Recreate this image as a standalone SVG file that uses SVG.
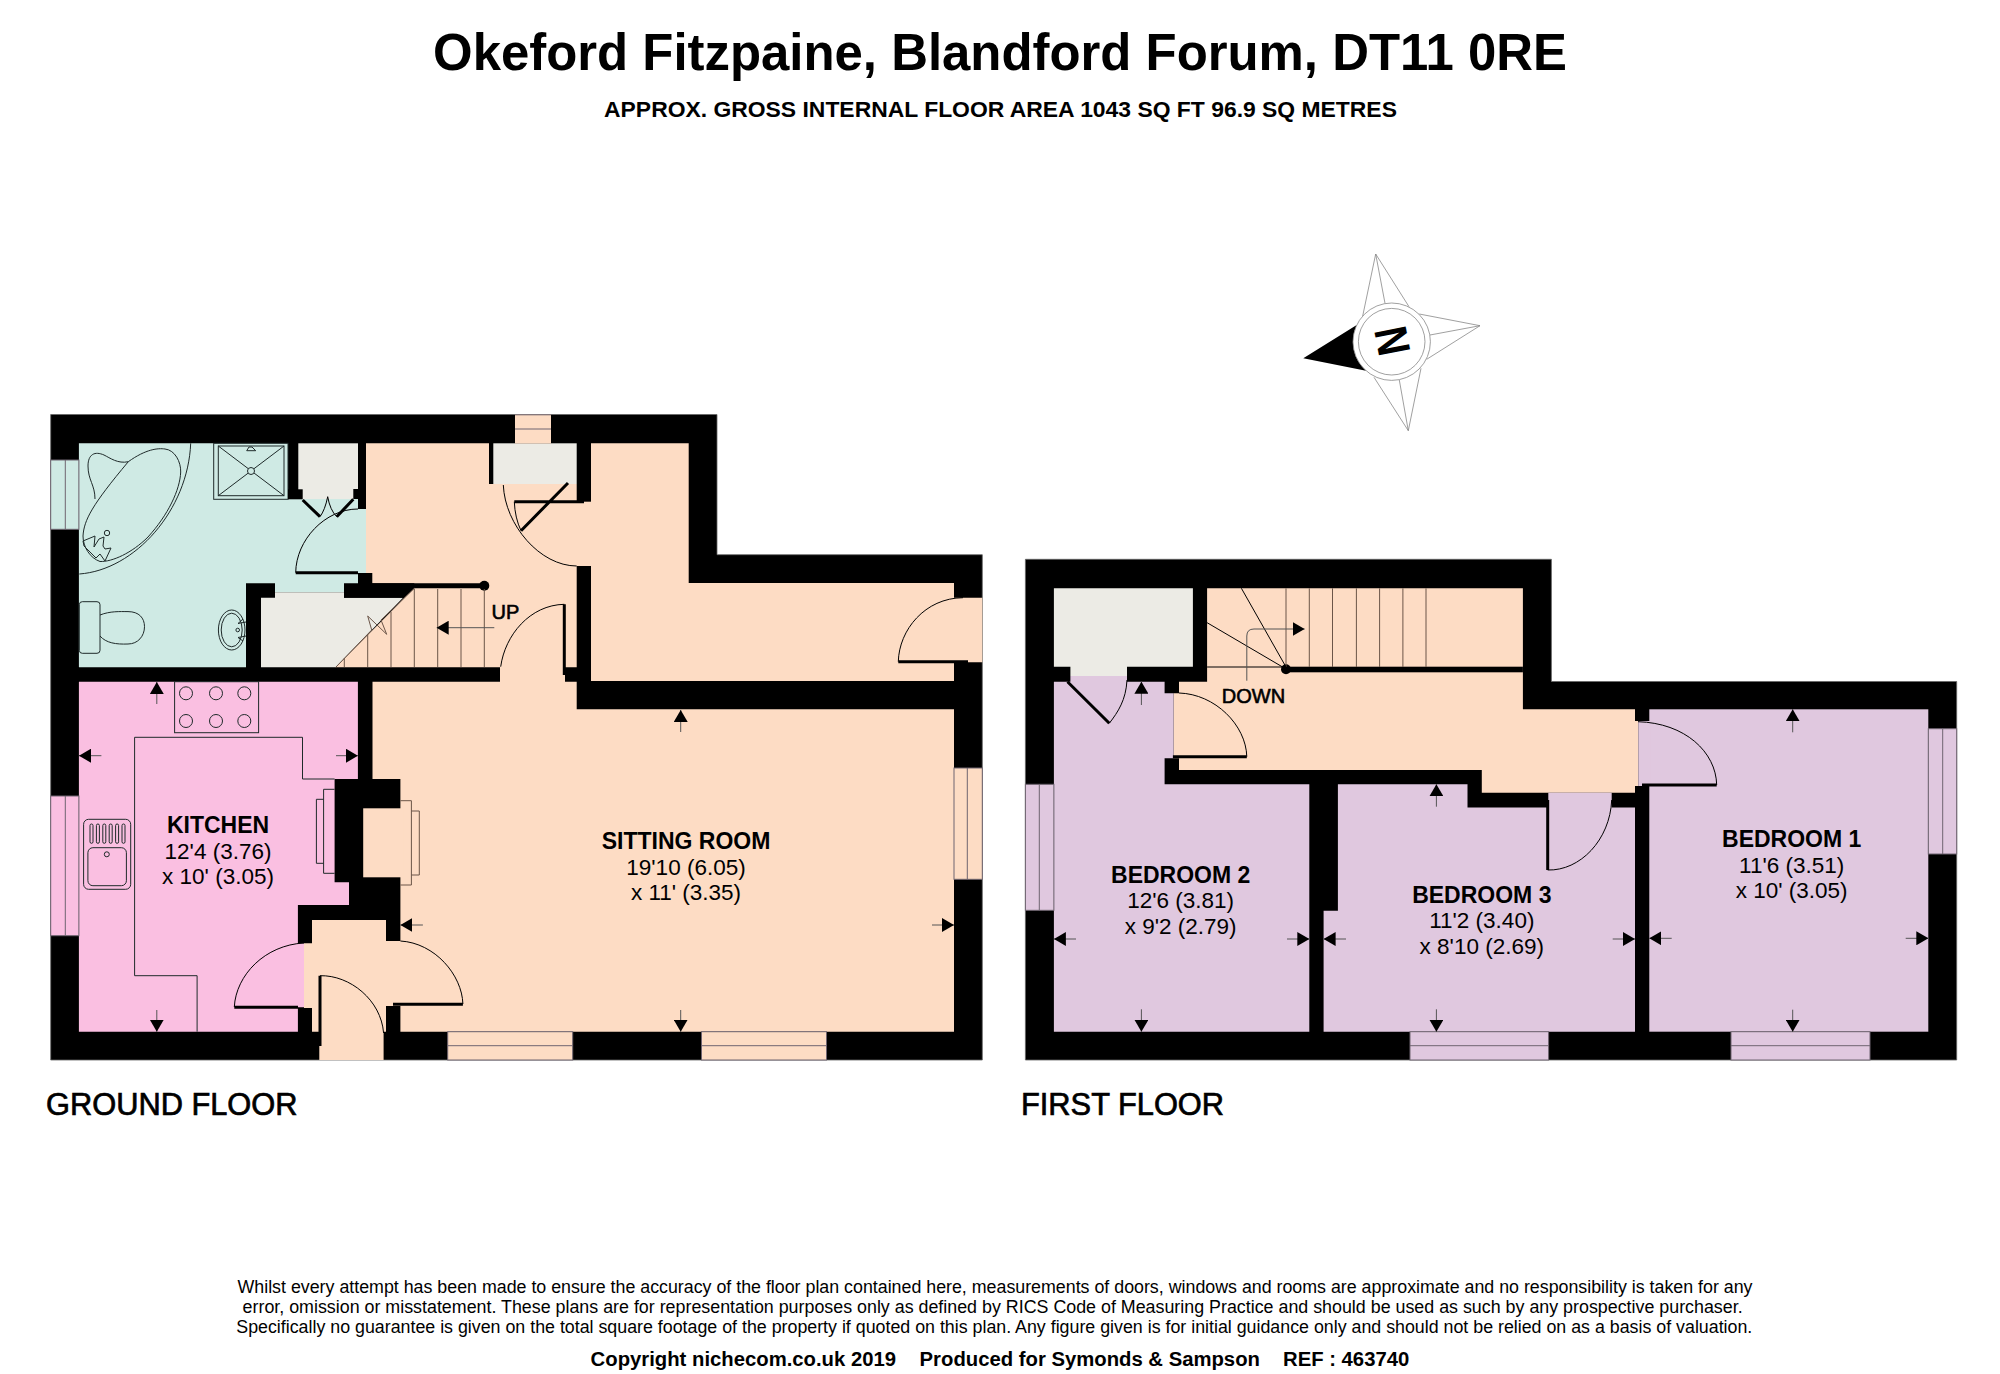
<svg xmlns="http://www.w3.org/2000/svg" width="2000" height="1374" viewBox="0 0 2000 1374">
<style>
text{font-family:"Liberation Sans",Arial,sans-serif;fill:#000}
.b{font-weight:bold}
.c{text-anchor:middle}
.rn{font-weight:bold;font-size:23px;text-anchor:middle}
.rd{font-size:22.5px;text-anchor:middle}
.lab{font-size:20px;stroke:#000;stroke-width:.6}
.fl{font-size:30.8px;stroke:#000;stroke-width:.7}
.ft{font-size:17.5px}
.cr{font-size:20.3px;font-weight:bold}
.wall{fill:#000}
.outer{fill:#000;stroke:#666;stroke-width:.8}
.peach{fill:#fddcc4}.aqua{fill:#cfeae4}.pink{fill:#fabfe1}.purple{fill:#e0c8df}.grey{fill:#ecebe5}
.l{fill:none;stroke:#000;stroke-width:1}
.fx{fill:none;stroke:#1f2a2a;stroke-width:1}
.br{fill:none;stroke:#6b5548;stroke-width:1}
.win{stroke:#6f6470;stroke-width:1}
.door{fill:none;stroke:#000;stroke-width:3}
.dim{stroke:#555;stroke-width:1;fill:none;marker-end:url(#ah)}
.cp{fill:none;stroke:#888;stroke-width:.8}
</style>
<defs>
<marker id="ah" viewBox="0 0 12 14" refX="12" refY="7" markerWidth="12" markerHeight="14" markerUnits="userSpaceOnUse" orient="auto"><path d="M0,0L12,7L0,14Z" fill="#000"/></marker>
</defs>

<g id="titles">
<text class="b c" x="1000" y="70" font-size="50.9">Okeford Fitzpaine, Blandford Forum, DT11 0RE</text>
<text class="b c" x="1000.5" y="116.7" font-size="22.9">APPROX. GROSS INTERNAL FLOOR AREA 1043 SQ FT 96.9 SQ METRES</text>
</g>

<g id="compass">
<path d="M1375.7,254L1362.7,316M1375.7,254L1385,303.3M1375.7,254L1409,306.7M1480,325.7L1419.3,314M1480,325.7L1430,335M1480,325.7L1426.7,359.3M1408.3,430.7L1421,368.3M1408.3,430.7L1399.3,380M1408.3,430.7L1374,377.3" class="cp"/>
<path d="M1303.3,358.3L1356.7,325A38.7,38.7 0 0 0 1366,370.7Z" fill="#000"/>
<circle cx="1391.7" cy="341.7" r="38.7" class="cp"/>
<circle cx="1391.7" cy="341.7" r="33.3" class="cp"/>
<text class="b c" transform="translate(1391.5,341) rotate(-101) scale(.85,1)" x="0" y="16.5" font-size="46">N</text>
</g>

<g id="ground-floor">
<polygon class="outer" points="50.7,414.5 717,414.5 717,554.7 982.3,554.7 982.3,1060 50.7,1060"/>
<g id="bathroom">
<polygon class="aqua" points="78.9,443.3 288,443.3 288,499 358,499 358,509 366,509 366,573 358,573 358,592.3 275,592.3 275,583.3 246,583.3 246,667.3 78.9,667.3"/>
<rect class="aqua win" x="50.7" y="460" width="28.2" height="69.3"/><path class="win" d="M65.3,460V529.3"/>
<path class="fx" d="M190.7,443.3C188,510 135,570 79.3,574"/>
<path class="fx" d="M128.3,461.7C146,449 158,448 165,449C175,450 181,462 180.7,472C180,490 168,515 148,537C132,553 112,562 100,561.5C90,558 83,547 83,536C84,520 92,505 128.3,461.7Z"/>
<path class="fx" d="M128.3,461.7C118,464 110,458 104,455C95,451 88,454 88,466C88,480 95,485 95,499"/>
<circle class="fx" cx="107" cy="533" r="2.7"/>
<path class="fx" d="M83,541L95,536L94,547L99,539L104,537L103,546L105,549L111,548L105,561L100,554L96,558L84,546Z"/>
<rect class="fx" x="79.3" y="601.7" width="20.7" height="51.6" rx="3"/>
<path class="fx" d="M100,615C110,611 120,611.6 128,611.6C139,611.6 144.5,618 144.5,626.7C144.5,636 138,644 128,644C116,644.5 106,643 100,636"/>
<ellipse class="fx" cx="231.7" cy="630" rx="13.3" ry="20"/>
<ellipse class="fx" cx="231.7" cy="630" rx="10.5" ry="16.8"/>
<circle class="fx" cx="237.7" cy="630" r="1.8"/>
<path class="fx" d="M246,622L238,623.5L243,619M246,636L238,637.5L243,641"/>
<rect class="fx" x="213.7" y="443.3" width="74.3" height="56"/>
<rect class="fx" x="218.3" y="446" width="65.7" height="49.7"/>
<path class="fx" d="M218.3,446L284,495.7M284,446L218.3,495.7M246.7,450.7H255.7L252,447H249Z"/>
<circle cx="251" cy="471" r="3.5" fill="#cfeae4" stroke="#1f2a2a"/>
</g>
<rect class="grey" x="298.3" y="443.3" width="59.7" height="55.7"/>
<polygon class="grey" points="261,597.7 275,597.7 275,592.3 344,592.3 344,597.7 403,597.7 335.7,667.3 261,667.3"/>
<polygon class="peach" points="366,443.3 489,443.3 489,484 576.7,484 576.7,667.3 565,667.3 565,683 500,683 500,667.3 335.7,667.3 414.3,588.3 414.3,583.3 372.3,583.3 372.3,573 366,573"/>
<rect class="grey" x="493.3" y="443.3" width="83.4" height="40.7"/>
<rect class="peach" x="515" y="414.5" width="36" height="29"/><path class="win" d="M515,429H551M515,414.8H551" />
<polygon class="peach" points="591,443.3 688.7,443.3 688.7,583 954,583 954,597.7 982.3,597.7 982.3,662.3 954,662.3 954,681 591,681"/>
<rect class="peach" x="570" y="501.7" width="25" height="64.3"/>
<polygon class="peach" points="372.5,681.7 576.7,681.7 576.7,709.3 954,709.3 954,1031.7 400.4,1031.7 400.4,779 372.5,779"/>
<polygon class="peach" points="312,920 386,920 386,941 402,941 402,1006 386,1006 386,1031.7 383.6,1031.7 383.6,1060 319.3,1060 319.3,1031.7 312,1031.7 312,1008 304,1008 304,943.3 312,943.3"/>
<rect class="peach" x="363.2" y="808.3" width="40" height="69"/>
<polygon class="pink" points="78.9,681.7 357.9,681.7 357.9,779 334.6,779 334.6,882.3 349,882.3 349,905 297.9,905 297.9,943.3 304,943.3 304,1007.3 297.9,1007.3 297.9,1031.7 78.9,1031.7"/>
<g id="windows-ground">
<rect class="pink win" x="50.7" y="796" width="28.2" height="139.7"/><path class="win" d="M65.3,796V935.7"/>
<rect class="peach win" x="447.7" y="1031.7" width="125" height="28.3"/><path class="win" d="M447.7,1045.7H572.7"/>
<rect class="peach win" x="701.5" y="1031.7" width="125" height="28.3"/><path class="win" d="M701.5,1045.7H826.5"/>
<rect class="peach win" x="954" y="768" width="28.3" height="111.3"/><path class="win" d="M967.3,768V879.3"/>
</g>
<g id="walls-ground" class="wall">
<polygon points="344,583.3 484.3,583.3 484.3,588.3 414.3,588.3 403,597.7 344,597.7"/>
<circle cx="484.3" cy="585.7" r="5"/>
<rect x="288" y="489.3" width="14.7" height="10"/>
<rect x="353.3" y="489" width="4.7" height="10"/>
</g>
<g id="kitchen-fittings">
<rect class="fx" x="174.6" y="681.7" width="84" height="51"/>
<circle class="fx" cx="186" cy="693.3" r="6.5"/><circle class="fx" cx="216" cy="693.3" r="6.5"/><circle class="fx" cx="244.3" cy="693.3" r="6.5"/>
<circle class="fx" cx="186" cy="721" r="6.5"/><circle class="fx" cx="216" cy="721" r="6.5"/><circle class="fx" cx="244.3" cy="721" r="6.5"/>
<path class="fx" d="M334.6,779H302.5V737.3H134.6V975.7H197.1V1031.7"/>
<rect class="fx" x="83.6" y="819.3" width="47.1" height="70" rx="5"/>
<rect class="fx" x="87.9" y="847.7" width="38.5" height="38" rx="5"/>
<rect class="fx" x="90" y="824" width="3" height="19.3" rx="1.5"/><rect class="fx" x="96.4" y="824" width="3" height="19.3" rx="1.5"/><rect class="fx" x="102.8" y="824" width="3" height="19.3" rx="1.5"/><rect class="fx" x="109.2" y="824" width="3" height="19.3" rx="1.5"/><rect class="fx" x="115.6" y="824" width="3" height="19.3" rx="1.5"/><rect class="fx" x="122" y="824" width="3" height="19.3" rx="1.5"/>
<circle class="fx" cx="106.8" cy="854.3" r="2.5"/>
<path class="fx" d="M334.6,789.3H323.6V873.3H334.6M323.6,799.3H316.4V863.3H323.6"/>
<path class="br" d="M400.4,800.7H411.4V885H400.4M411.4,811H419.3V875H411.4"/>
</g>
<g id="stairs-ground">
<path class="br" d="M335.7,667.3L371.7,630L367.7,616L386.7,634.3L381,620L414.3,588.3M344.3,658V667M367.7,634V667M391,612V667M414.3,589V667M437.7,589V667M461,589V667M484.3,589V667"/>
<line class="dim" x1="494.3" y1="627.7" x2="436.7" y2="627.7"/>
<text class="lab" x="491.5" y="619">UP</text>
</g>
<g id="doors-ground">
<path class="door" d="M302.7,500L320,516.7M353.3,499.3L336.7,516.7M295.7,572.7H358M568,483L521,530.7M514.3,501.7H584"/>
<path class="door" d="M564.3,604.3V675M234.3,1007.3H298M393,1004.3H462.9M320,975.7V1046M898.3,661.7H968" stroke-width="2.6"/>
<path class="l" d="M320,516.7Q325,510 327.7,496.7Q330,510 336.7,516.7M295.7,572.7C296,540 325,509 358,509M503.3,485C505,525 540,566 576.7,566M514.3,501.7Q515,518 521,530.7M564.3,604.3C530,605 505,635 500.7,666.7M898.3,661.7C899,630 925,598 963,597.7M234.3,1007C236,975 265,945 304,943M462.9,1004C462,975 435,943 400.4,941M320,975.7C350,975 381,1000 383.6,1033"/>
</g>
<g id="dims-ground">
<line class="dim" x1="156.8" y1="704" x2="156.8" y2="682"/>
<line class="dim" x1="101.4" y1="755.7" x2="79" y2="755.7"/>
<line class="dim" x1="336" y1="755.7" x2="357.9" y2="755.7"/>
<line class="dim" x1="156.8" y1="1010" x2="156.8" y2="1031.7"/>
<line class="dim" x1="422.9" y1="925" x2="400.4" y2="925"/>
<line class="dim" x1="932" y1="925" x2="954" y2="925"/>
<line class="dim" x1="680.7" y1="732" x2="680.7" y2="710"/>
<line class="dim" x1="680.7" y1="1010" x2="680.7" y2="1031.7"/>
</g>
<g id="labels-ground">
<text class="rn" x="218" y="833.3">KITCHEN</text>
<text class="rd" x="218" y="859.3">12'4 (3.76)</text>
<text class="rd" x="218" y="884.3">x 10' (3.05)</text>
<text class="rn" x="686" y="849.3">SITTING ROOM</text>
<text class="rd" x="686" y="874.7">19'10 (6.05)</text>
<text class="rd" x="686" y="900">x 11' (3.35)</text>
<text class="fl" x="46" y="1115.3">GROUND FLOOR</text>
</g>
</g>

<g id="first-floor">
<polygon class="outer" points="1025.4,559.3 1551.4,559.3 1551.4,681.5 1956.7,681.5 1956.7,1060 1025.4,1060"/>
<polygon class="grey" points="1053.9,588.3 1192.9,588.3 1192.9,666.7 1127,666.7 1127,676 1070.4,676 1070.4,666.7 1053.9,666.7"/>
<polygon class="peach" points="1207.1,588.3 1522.9,588.3 1522.9,709.3 1635,709.3 1635,721 1638.3,721 1638.3,786 1635,786 1635,792.7 1481.8,792.7 1481.8,770 1179,770 1179,758.3 1173.6,758.3 1173.6,693.3 1179,693.3 1179,681.7 1207.1,681.7"/>
<polygon class="purple" points="1053.9,681.7 1070.4,681.7 1070.4,676 1127,676 1127,681.7 1164.6,681.7 1164.6,693.3 1173.6,693.3 1173.6,758.3 1164.6,758.3 1164.6,784.3 1309.3,784.3 1309.3,1031.7 1053.9,1031.7"/>
<polygon class="purple" points="1337.9,784.3 1467.5,784.3 1467.5,807.5 1635,807.5 1635,1031.7 1323.6,1031.7 1323.6,910.7 1337.9,910.7"/>
<rect class="purple" x="1548.3" y="792.7" width="63.4" height="18"/>
<rect class="purple" x="1649.3" y="709.3" width="279" height="322.4"/>
<rect class="purple" x="1638.3" y="721" width="12" height="65"/>
<g id="windows-first">
<rect class="purple win" x="1025.4" y="784.3" width="28.5" height="126"/><path class="win" d="M1039.3,784.3V910.3"/>
<rect class="purple win" x="1410" y="1031.7" width="138.6" height="28.3"/><path class="win" d="M1410,1045.7H1548.6"/>
<rect class="purple win" x="1731" y="1031.7" width="139" height="28.3"/><path class="win" d="M1731,1045.7H1870"/>
<rect class="purple win" x="1928.3" y="728.7" width="28.4" height="125.3"/><path class="win" d="M1942.7,728.7V854"/>
</g>
<g id="walls-first" class="wall">
<rect x="1286" y="666.7" width="236.9" height="5.6"/>
<circle cx="1286" cy="669.3" r="5"/>
</g>
<g id="stairs-first">
<path class="br" d="M1309.3,588.3V667M1332.5,588.3V667M1356.4,588.3V667M1379.6,588.3V667M1402.9,588.3V667M1426,588.3V667M1286,588.3V667"/>
<path class="l" d="M1207.1,667H1286L1241.4,588.3M1286,669L1207.1,622.7" stroke="#222"/>
<path class="dim" d="M1246.8,680.7V636Q1246.8,629 1254,629H1304.6"/>
<text class="lab" x="1221.8" y="702.7">DOWN</text>
</g>
<g id="doors-first">
<path class="door" d="M1067.5,681.7L1109.3,723.3M1172.9,756.7H1246.8M1642,785H1716.7" stroke-width="2.8"/>
<path class="door" d="M1547.7,800V870" stroke-width="2.4"/>
<path class="l" d="M1109.3,723.3C1118,712 1126,700 1127,680M1246.8,756.7C1246,725 1215,694 1179,693M1716.7,785C1716,752 1685,723 1638,721.7M1547.7,870C1580,871 1610,840 1611.7,800"/>
</g>
<g id="dims-first">
<line class="dim" x1="1141.4" y1="705" x2="1141.4" y2="681.7"/>
<line class="dim" x1="1141.4" y1="1009.3" x2="1141.4" y2="1031.7"/>
<line class="dim" x1="1076" y1="939" x2="1053.9" y2="939"/>
<line class="dim" x1="1287" y1="939" x2="1309.3" y2="939"/>
<line class="dim" x1="1346" y1="939" x2="1323.6" y2="939"/>
<line class="dim" x1="1612.7" y1="939" x2="1635" y2="939"/>
<line class="dim" x1="1436.4" y1="806.7" x2="1436.4" y2="784.3"/>
<line class="dim" x1="1436.4" y1="1009.3" x2="1436.4" y2="1031.7"/>
<line class="dim" x1="1671.7" y1="938.3" x2="1649.3" y2="938.3"/>
<line class="dim" x1="1905.7" y1="938.3" x2="1928.3" y2="938.3"/>
<line class="dim" x1="1792.7" y1="732.3" x2="1792.7" y2="709.3"/>
<line class="dim" x1="1792.7" y1="1009.7" x2="1792.7" y2="1031.7"/>
</g>
<g id="labels-first">
<text class="rn" x="1180.7" y="882.7">BEDROOM 2</text>
<text class="rd" x="1180.7" y="908.3">12'6 (3.81)</text>
<text class="rd" x="1180.7" y="934">x 9'2 (2.79)</text>
<text class="rn" x="1481.8" y="902.7">BEDROOM 3</text>
<text class="rd" x="1481.8" y="928.3">11'2 (3.40)</text>
<text class="rd" x="1481.8" y="954">x 8'10 (2.69)</text>
<text class="rn" x="1791.7" y="846.7">BEDROOM 1</text>
<text class="rd" x="1791.7" y="872.7">11'6 (3.51)</text>
<text class="rd" x="1791.7" y="898.3">x 10' (3.05)</text>
<text class="fl" x="1021" y="1115.3">FIRST FLOOR</text>
</g>
</g>

<g id="footer">
<text class="ft c" x="995" y="1292.7" textLength="1515" lengthAdjust="spacingAndGlyphs">Whilst every attempt has been made to ensure the accuracy of the floor plan contained here, measurements of doors, windows and rooms are approximate and no responsibility is taken for any</text>
<text class="ft c" x="992.6" y="1312.7" textLength="1500" lengthAdjust="spacingAndGlyphs">error, omission or misstatement. These plans are for representation purposes only as defined by RICS Code of Measuring Practice and should be used as such by any prospective purchaser.</text>
<text class="ft c" x="994.3" y="1332.7" textLength="1516" lengthAdjust="spacingAndGlyphs">Specifically no guarantee is given on the total square footage of the property if quoted on this plan. Any figure given is for initial guidance only and should not be relied on as a basis of valuation.</text>
<text class="cr" x="590.6" y="1366">Copyright nichecom.co.uk 2019</text>
<text class="cr" x="919.6" y="1366">Produced for Symonds &amp; Sampson</text>
<text class="cr" x="1283" y="1366">REF : 463740</text>
</g>
</svg>
